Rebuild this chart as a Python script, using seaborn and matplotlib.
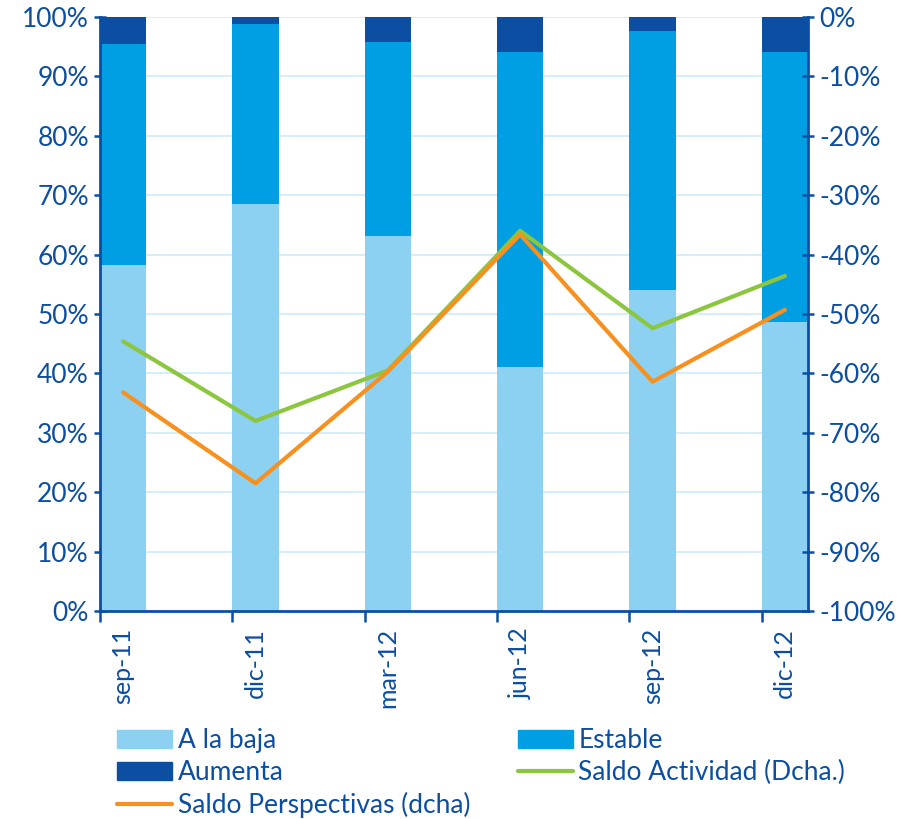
import matplotlib
matplotlib.use("Agg")
import matplotlib.pyplot as plt
import seaborn as sns
import pandas as pd
import numpy as np
from matplotlib.patches import Patch
from matplotlib.lines import Line2D
from matplotlib.ticker import FixedLocator

categories = ["sep-11", "dic-11", "mar-12", "jun-12", "sep-12", "dic-12"]
a_la_baja = [58.2, 68.5, 63.1, 41.1, 54.0, 48.6]
estable = [37.3, 30.3, 32.7, 53.0, 43.6, 45.5]
aumenta = [4.5, 1.2, 4.2, 5.9, 2.4, 5.9]
saldo_actividad = [-54.6, -68.0, -59.5, -36.0, -52.4, -43.6]
saldo_perspectivas = [-63.2, -78.5, -59.7, -36.6, -61.4, -49.3]

c_baja = "#8DD1F2"
c_est = "#009FE3"
c_aum = "#0B4EA2"
c_green = "#8CC63E"
c_orange = "#F7901E"
c_text = "#0B4EA2"
c_grid = "#CDEBF8"

sns.set_theme(style="white")
plt.rcParams["font.family"] = ["Lato", "DejaVu Sans"]
FS = 19
FSX = 18

df = pd.DataFrame({"cat": categories, "baja": a_la_baja, "estable": estable, "aumenta": aumenta})
df["top_est"] = df["baja"] + df["estable"]
df["top_aum"] = df["top_est"] + df["aumenta"]

fig = plt.figure(figsize=(9.05, 8.19), dpi=100)
ax = fig.add_axes([100 / 905, (819 - 611) / 819, 708 / 905, 594 / 819])
w = 0.35
for col, c in [("top_aum", c_aum), ("top_est", c_est), ("baja", c_baja)]:
    sns.barplot(data=df, x="cat", y=col, color=c, width=w, ax=ax, saturation=1, zorder=2,
                linewidth=0, edgecolor="none")

ax.set_xlim(-w / 2, len(categories) - 1 + w / 2)
ax.set_ylim(0, 100)
ax.set_yticks(np.arange(0, 101, 10))
ax.set_yticklabels([f"{v}%" for v in range(0, 101, 10)])
for y in range(10, 101, 10):
    ax.axhline(y, color=c_grid, lw=1.2, zorder=0)
ax.set_xlabel("")
ax.set_ylabel("")
ax.set_xticks(range(len(categories)))
ax.set_xticklabels(categories, rotation=90)
ax.xaxis.set_minor_locator(FixedLocator([i - w / 2 for i in range(len(categories))]))
ax.tick_params(axis="x", which="major", length=0, pad=12, labelsize=FSX, labelcolor=c_text)
ax.tick_params(axis="x", which="minor", length=8, width=1.8, color=c_aum, direction="out", bottom=True)
ax.tick_params(axis="y", length=8, width=1.8, color=c_aum, direction="inout", labelsize=FS,
               labelcolor=c_text, left=True, pad=4)
for side in ["top", "right"]:
    ax.spines[side].set_visible(False)
for side in ["left", "bottom"]:
    ax.spines[side].set_color(c_aum)
    ax.spines[side].set_linewidth(2)

ax2 = ax.twinx()
ldf = pd.DataFrame({"x": np.arange(len(categories)), "act": saldo_actividad, "per": saldo_perspectivas})
sns.lineplot(data=ldf, x="x", y="act", color=c_green, lw=3, ax=ax2)
sns.lineplot(data=ldf, x="x", y="per", color=c_orange, lw=3, ax=ax2)
ax2.set_ylim(-100, 0)
ax2.set_xlim(-w / 2, len(categories) - 1 + w / 2)
ax2.set_yticks(np.arange(-100, 1, 10))
ax2.set_yticklabels([f"{v}%" for v in range(-100, 1, 10)])
ax2.set_xlabel("")
ax2.set_ylabel("")
ax2.tick_params(axis="y", length=8, width=1.8, color=c_aum, direction="inout", labelsize=FS,
                labelcolor=c_text, right=True, pad=4)
for side in ["top", "left", "bottom"]:
    ax2.spines[side].set_visible(False)
ax2.spines["right"].set_color(c_aum)
ax2.spines["right"].set_linewidth(2)

handles = [
    Patch(color=c_baja, label="A la baja"),
    Patch(color=c_aum, label="Aumenta"),
    Line2D([], [], color=c_orange, lw=3, label="Saldo Perspectivas (dcha)"),
    Patch(color=c_est, label="Estable"),
    Line2D([], [], color=c_green, lw=3, label="Saldo Actividad (Dcha.)"),
]
leg = fig.legend(handles=handles, ncol=2, loc="upper left", bbox_to_anchor=(117 / 905, 1 - 728 / 819),
                 frameon=False, fontsize=FS, handlelength=2.1, handleheight=0.65, handletextpad=0.2,
                 columnspacing=1.8, labelspacing=0.27, borderaxespad=0, borderpad=0)
for t in leg.get_texts():
    t.set_color(c_text)

fig.savefig("out.png", dpi=100)
